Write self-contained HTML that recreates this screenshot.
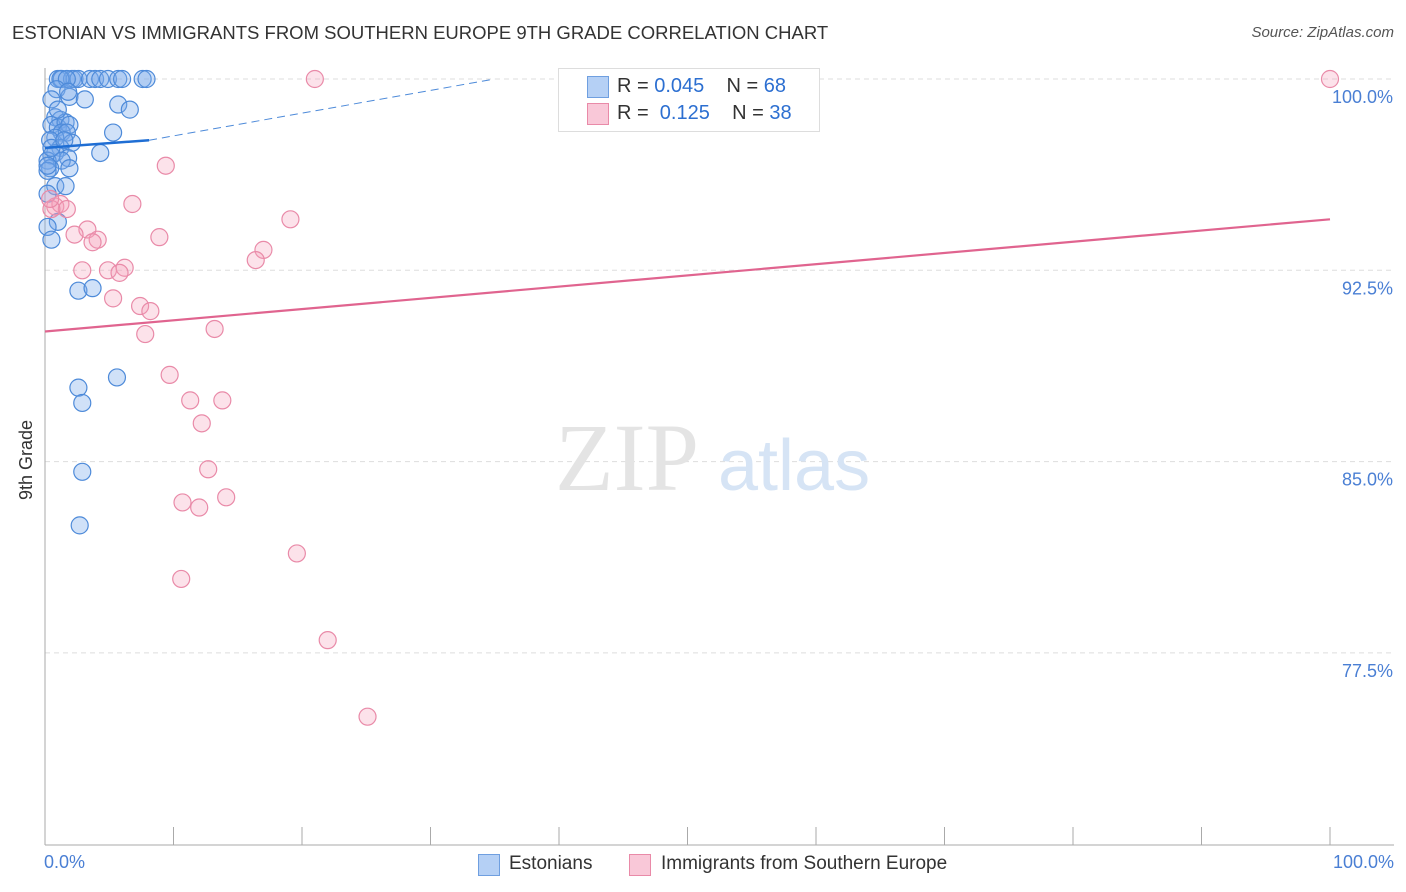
<!DOCTYPE html>
<html><head><meta charset="utf-8"><style>
body{margin:0;background:#fff;font-family:"Liberation Sans",sans-serif;}
#wrap{position:relative;width:1406px;height:892px;overflow:hidden;}
.t{position:absolute;white-space:nowrap;}
</style></head><body>
<div id="wrap">
<div class="t" style="left:12px;top:22px;font-size:18.5px;color:#333;">ESTONIAN VS IMMIGRANTS FROM SOUTHERN EUROPE 9TH GRADE CORRELATION CHART</div>
<div class="t" style="right:12px;top:24px;font-size:15px;color:#555;font-style:italic;">Source: ZipAtlas.com</div>
<svg id="svg" width="1406" height="892" style="position:absolute;left:0;top:0"></svg>
</div>
<script>
const yTicks=[100,92.5,85,77.5];
const blueX=[1.0,1.3,2.1,2.3,2.6,3.5,3.9,4.3,4.9,5.7,6.0,7.6,7.9,1.2,1.7,0.9,0.5,1.9,3.1,5.7,6.6,1.8,0.8,1.2,0.5,1.0,1.6,1.9,1.3,1.7,5.3,0.8,0.4,2.1,1.2,0.8,0.5,1.8,4.3,0.2,1.3,1.9,0.4,0.2,0.8,1.6,0.2,1.0,0.2,0.5,2.6,3.7,5.6,2.6,2.9,2.9,2.7,0.2,1.0,0.5,1.5];
const blueY=[100,100,100,100,100,100,100,100,100,100,100,100,100,100,100,99.6,99.2,99.3,99.2,99.0,98.8,99.5,98.5,98.4,98.2,98.1,98.3,98.2,97.9,97.9,97.9,97.7,97.6,97.5,97.3,97.1,97.0,96.9,97.1,96.8,96.8,96.5,96.5,96.4,95.8,95.8,95.5,94.4,94.2,93.7,91.7,91.8,88.3,87.9,87.3,84.6,82.5,96.6,98.8,97.3,97.6];
const pinkX=[21.0,100,9.4,6.8,19.1,0.8,1.2,1.7,0.5,3.3,2.3,4.1,3.7,8.9,17.0,16.4,2.9,4.9,6.2,5.8,5.3,7.4,8.2,7.8,13.2,9.7,11.3,13.8,12.2,12.7,14.1,10.7,12.0,19.6,10.6,22.0,25.1,0.4];
const pinkY=[100,100,96.6,95.1,94.5,95.0,95.1,94.9,94.9,94.1,93.9,93.7,93.6,93.8,93.3,92.9,92.5,92.5,92.6,92.4,91.4,91.1,90.9,90.0,90.2,88.4,87.4,87.4,86.5,84.7,83.6,83.4,83.2,81.4,80.4,78.0,75.0,95.3];
const blueTrend=[97.3,97.6,100]; const blueTrendX=[0,8.1,35];
const pinkTrend=[90.1,94.5];
const sx=v=>45+v*12.85, sy=v=>79+(100-v)*25.507;
const svg=document.getElementById('svg');const NS='http://www.w3.org/2000/svg';
function mk(tag,a,p){const e=document.createElementNS(NS,tag);for(const k in a)e.setAttribute(k,a[k]);(p||svg).appendChild(e);return e;}
yTicks.forEach(v=>{const l=mk('line',{x1:45,x2:1394,y1:sy(v),y2:sy(v),stroke:'#ddd','stroke-dasharray':'5,4'});


const t=mk('text',{x:1393,y:sy(v)+24,'text-anchor':'end','font-size':18,fill:'#4a7fd4','font-family':'Liberation Sans'});t.textContent=v.toFixed(1)+'%';

});
mk('line',{x1:45,x2:45,y1:68,y2:845,stroke:'#aaa'});
mk('line',{x1:45,x2:1394,y1:845,y2:845,stroke:'#aaa'});
for(let i=1;i<=10;i++){const x=45+i*128.5;mk('line',{x1:x,x2:x,y1:827,y2:845,stroke:'#aaa'});}
const wm=mk('text',{x:555,y:490,'font-size':96,fill:'#e4e4e4','font-family':'Liberation Serif'});wm.textContent='ZIP';


const wm2=mk('text',{x:718,y:490,'font-size':72,fill:'#d6e4f5','font-family':'Liberation Sans'});wm2.textContent='atlas';


blueX.forEach((x,i)=>{const c=mk('circle',{cx:sx(x),cy:sy(blueY[i]),r:8.5,fill:'rgba(120,170,235,0.35)',stroke:'#4d8ad9','stroke-width':1.2});

});
pinkX.forEach((x,i)=>{const c=mk('circle',{cx:sx(x),cy:sy(pinkY[i]),r:8.5,fill:'rgba(245,160,185,0.3)',stroke:'#e98aa8','stroke-width':1.2});

});
const b1=mk('line',{x1:sx(blueTrendX[0]),y1:sy(blueTrend[0]),x2:sx(blueTrendX[1]),y2:sy(blueTrend[1]),stroke:'#1f6ed4','stroke-width':2.5});


const b2=mk('line',{x1:sx(blueTrendX[1]),y1:sy(blueTrend[1]),x2:sx(blueTrendX[2]),y2:sy(blueTrend[2]),stroke:'#4d8ad9','stroke-width':1,'stroke-dasharray':'8,5'});


const p1=mk('line',{x1:sx(0),y1:sy(pinkTrend[0]),x2:sx(100),y2:sy(pinkTrend[1]),stroke:'#e0648f','stroke-width':2.2});


</script>
<div style="position:absolute;left:558px;top:68px;width:260px;height:62px;border:1px solid #ddd;background:#fff;font-size:20px;">
<div style="position:absolute;left:28px;top:7px;width:20px;height:20px;background:#b5d0f5;border:1px solid #6f9fe0"></div>
<div class="t" style="left:58px;top:6px;color:#333">R = <span style="color:#2c6fd1">0.045</span>&nbsp;&nbsp;&nbsp; N = <span style="color:#2c6fd1">68</span></div>
<div style="position:absolute;left:28px;top:34px;width:20px;height:20px;background:#f9c8d8;border:1px solid #e98aa8"></div>
<div class="t" style="left:58px;top:33px;color:#333">R = &nbsp;<span style="color:#2c6fd1">0.125</span>&nbsp;&nbsp;&nbsp; N = <span style="color:#2c6fd1">38</span></div>
</div>
<div class="t" style="left:44px;top:852px;font-size:18px;color:#4a7fd4">0.0%</div>
<div class="t" style="right:12px;top:852px;font-size:18px;color:#4a7fd4">100.0%</div>
<div class="t" style="left:16px;top:500px;font-size:18px;color:#333;transform:rotate(-90deg);transform-origin:0 0">9th Grade</div>
<div style="position:absolute;left:478px;top:854px;width:20px;height:20px;background:#b5d0f5;border:1px solid #6f9fe0"></div>
<div class="t" style="left:509px;top:853px;font-size:19px;color:#333">Estonians</div>
<div style="position:absolute;left:629px;top:854px;width:20px;height:20px;background:#f9c8d8;border:1px solid #e98aa8"></div>
<div class="t" style="left:661px;top:853px;font-size:19px;color:#333">Immigrants from Southern Europe</div>
</body></html>
